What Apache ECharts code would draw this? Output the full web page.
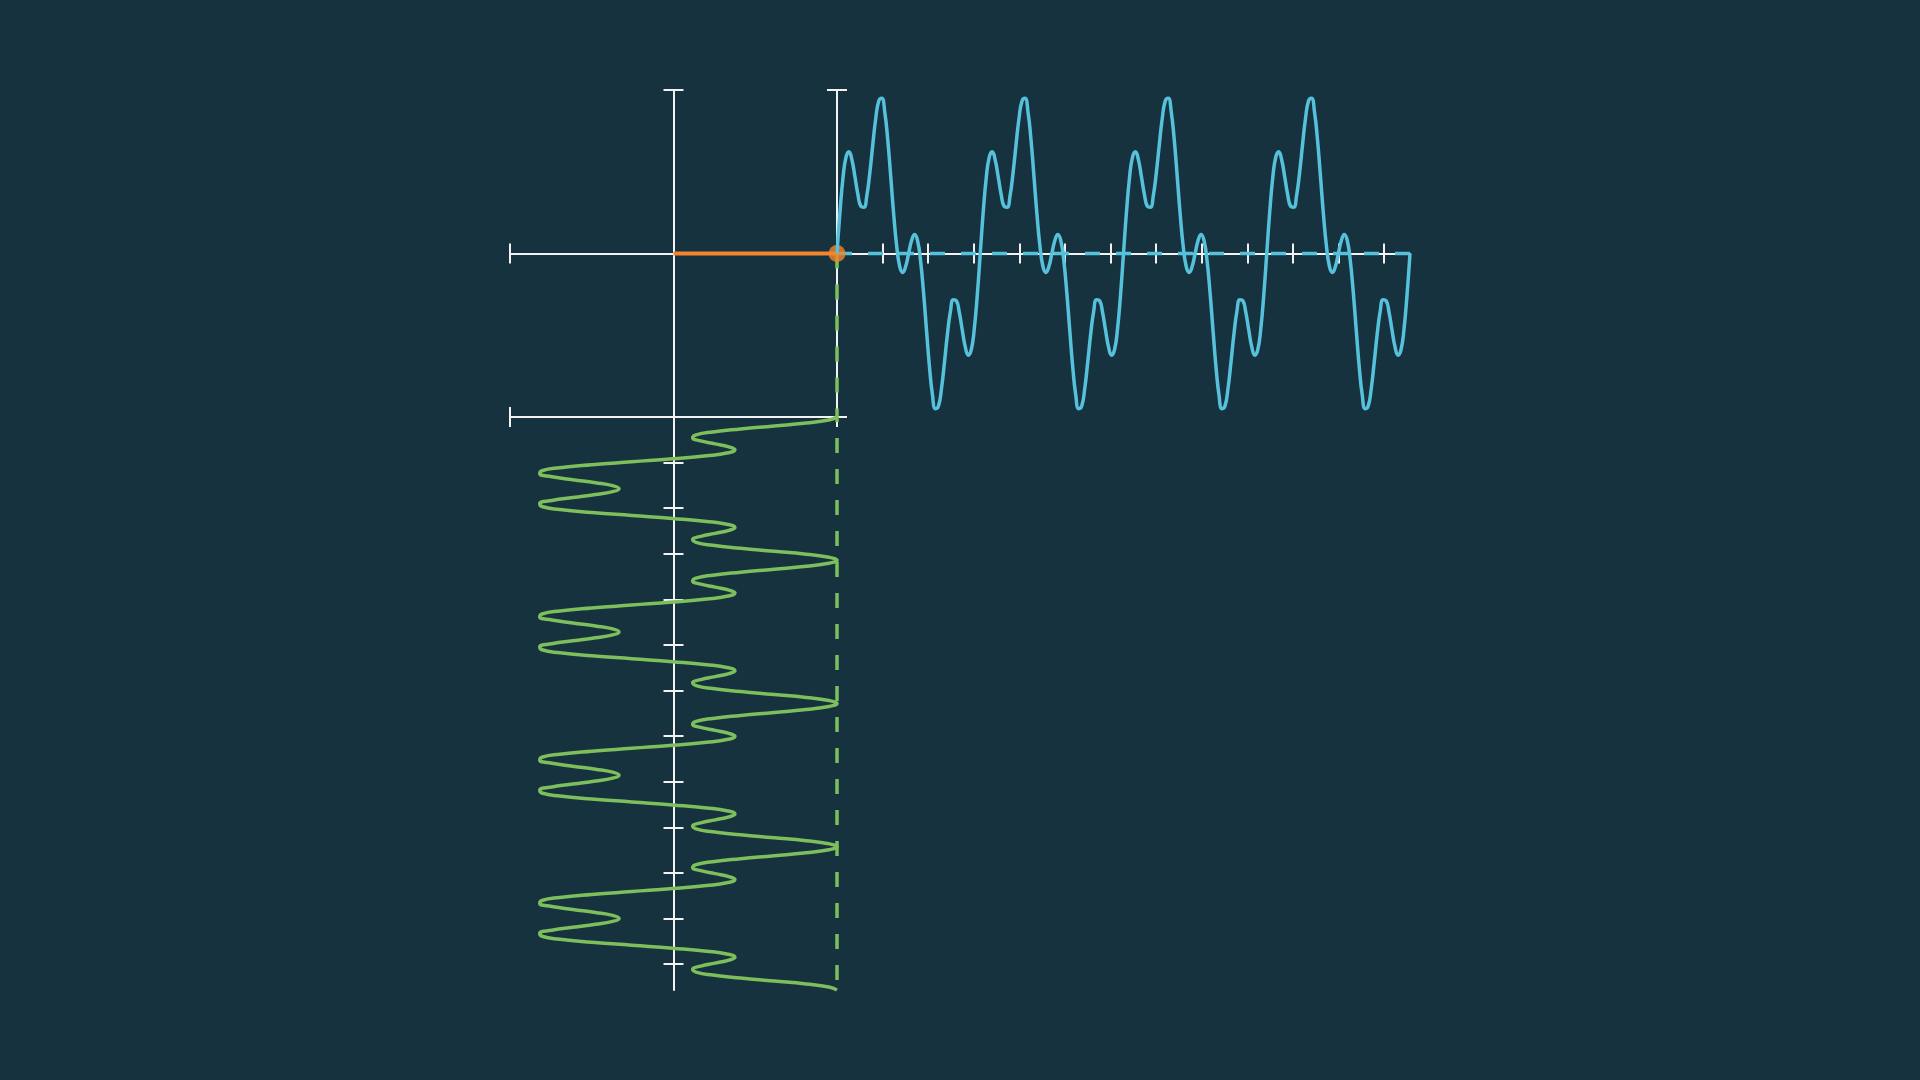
<!DOCTYPE html>
<html>
<head>
<meta charset="UTF-8">
<title></title>
<style>
  html, body { margin: 0; height: 100%; background: #17323f; }
  #main { width: 1920px; height: 1080px; }
</style>
</head>
<body>
<div id="main"></div>
<script src="https://cdn.jsdelivr.net/npm/echarts@6/dist/echarts.min.js"></script>
<script>
// sample spacing along t (pi/48), 4 periods of pi each
var tStep = Math.PI / 48;
var tMax = 4 * Math.PI;

// blue wave: y value at each t sample (right panel)
var blueWave = [
  0, .254, .461, .588, .622, .573, .471, .362, .289, .283, .355, .494, .667, .828, .933, .949, .866, .696, .471, .239, .045, -.078, -.116, -.080, 0, .080, .116, .078, -.045, -.239, -.471, -.696, -.866, -.949, -.933, -.828, -.667, -.494, -.355, -.283, -.289, -.362, -.471, -.573, -.622, -.588, -.461, -.254,
  0, .254, .461, .588, .622, .573, .471, .362, .289, .283, .355, .494, .667, .828, .933, .949, .866, .696, .471, .239, .045, -.078, -.116, -.080, 0, .080, .116, .078, -.045, -.239, -.471, -.696, -.866, -.949, -.933, -.828, -.667, -.494, -.355, -.283, -.289, -.362, -.471, -.573, -.622, -.588, -.461, -.254,
  0, .254, .461, .588, .622, .573, .471, .362, .289, .283, .355, .494, .667, .828, .933, .949, .866, .696, .471, .239, .045, -.078, -.116, -.080, 0, .080, .116, .078, -.045, -.239, -.471, -.696, -.866, -.949, -.933, -.828, -.667, -.494, -.355, -.283, -.289, -.362, -.471, -.573, -.622, -.588, -.461, -.254,
  0, .254, .461, .588, .622, .573, .471, .362, .289, .283, .355, .494, .667, .828, .933, .949, .866, .696, .471, .239, .045, -.078, -.116, -.080, 0, .080, .116, .078, -.045, -.239, -.471, -.696, -.866, -.949, -.933, -.828, -.667, -.494, -.355, -.283, -.289, -.362, -.471, -.573, -.622, -.588, -.461, -.254,
  0
];

// green wave: x value at each t sample (bottom panel, t runs downward)
var greenWave = [
  1, .950, .811, .616, .411, .240, .138, .117, .167, .255, .339, .376, .333, .202, -.006, -.255, -.500, -.695, -.805, -.818, -.744, -.616, -.477, -.372, -.333, -.372, -.477, -.616, -.744, -.818, -.805, -.695, -.500, -.255, -.006, .202, .333, .376, .339, .255, .167, .117, .138, .240, .411, .616, .811, .950,
  1, .950, .811, .616, .411, .240, .138, .117, .167, .255, .339, .376, .333, .202, -.006, -.255, -.500, -.695, -.805, -.818, -.744, -.616, -.477, -.372, -.333, -.372, -.477, -.616, -.744, -.818, -.805, -.695, -.500, -.255, -.006, .202, .333, .376, .339, .255, .167, .117, .138, .240, .411, .616, .811, .950,
  1, .950, .811, .616, .411, .240, .138, .117, .167, .255, .339, .376, .333, .202, -.006, -.255, -.500, -.695, -.805, -.818, -.744, -.616, -.477, -.372, -.333, -.372, -.477, -.616, -.744, -.818, -.805, -.695, -.500, -.255, -.006, .202, .333, .376, .339, .255, .167, .117, .138, .240, .411, .616, .811, .950,
  1, .950, .811, .616, .411, .240, .138, .117, .167, .255, .339, .376, .333, .202, -.006, -.255, -.500, -.695, -.805, -.818, -.744, -.616, -.477, -.372, -.333, -.372, -.477, -.616, -.744, -.818, -.805, -.695, -.500, -.255, -.006, .202, .333, .376, .339, .255, .167, .117, .138, .240, .411, .616, .811, .950,
  1
];

// current tip of the arm in the unit panel
var armStart = [0, 0];
var armTip = [1, 0];

// tick positions
var unitTicks = [-1, 1];
var tTicks = [0, 1, 2, 3, 4, 5, 6, 7, 8, 9, 10, 11, 12];

var axisColor = '#f2f2f2';
var blue = '#56c1db';
var green = '#7dbf5c';
var orange = '#f5842b';

function valAxis(grid, min, max, ticks, inside, pos, extra) {
  var ax = {
    type: 'value',
    gridIndex: grid,
    min: min,
    max: max,
    position: pos,
    axisLine: { show: !inside, onZero: true, lineStyle: { color: axisColor, width: 2 } },
    axisTick: { show: true, inside: inside, length: 10, customValues: ticks, lineStyle: { color: axisColor, width: 2 } },
    axisLabel: { show: false },
    splitLine: { show: false }
  };
  for (var k in extra) ax[k] = extra[k];
  return ax;
}

var chart = echarts.init(document.getElementById('main'));

var blueData = blueWave.map(function (v, i) { return [i * tStep, v]; });
var greenData = greenWave.map(function (v, i) { return [v, i * tStep]; });

chart.setOption({
  backgroundColor: '#17323f',
  animation: false,
  grid: [
    { left: 510, top: 90, width: 327, height: 327 },
    { left: 837, top: 90, width: 573, height: 327 },
    { left: 510, top: 417, width: 327, height: 573 }
  ],
  xAxis: [
    valAxis(0, -1, 1, unitTicks, false, 'bottom'),
    valAxis(0, -1, 1, unitTicks, true, 'bottom'),
    valAxis(1, 0, tMax, tTicks, false, 'bottom'),
    valAxis(1, 0, tMax, tTicks, true, 'bottom'),
    valAxis(2, -1, 1, unitTicks, false, 'top'),
    valAxis(2, -1, 1, unitTicks, true, 'top')
  ],
  yAxis: [
    valAxis(0, -1, 1, unitTicks, false, 'left'),
    valAxis(0, -1, 1, unitTicks, true, 'left'),
    valAxis(1, -1, 1, unitTicks, false, 'left'),
    valAxis(1, -1, 1, unitTicks, true, 'left'),
    valAxis(2, 0, tMax, tTicks, false, 'left', { inverse: true }),
    valAxis(2, 0, tMax, tTicks, true, 'left', { inverse: true })
  ],
  series: [
    {
      type: 'line',
      xAxisIndex: 0, yAxisIndex: 0,
      data: [armStart, armTip],
      symbol: 'none',
      lineStyle: { color: orange, width: 4 },
      z: 3
    },
    {
      type: 'line',
      xAxisIndex: 0, yAxisIndex: 0,
      data: [armTip, [armTip[0], -1]],
      symbol: 'none',
      lineStyle: { color: green, width: 3.5, type: [15, 16] },
      z: 3
    },
    {
      type: 'line',
      xAxisIndex: 4, yAxisIndex: 4,
      data: [[armTip[0], 0], [armTip[0], tMax]],
      symbol: 'none',
      lineStyle: { color: green, width: 3.5, type: [15, 16], dashOffset: 10 },
      z: 3
    },
    {
      type: 'line',
      xAxisIndex: 2, yAxisIndex: 2,
      data: [[0, armTip[1]], [tMax, armTip[1]]],
      symbol: 'none',
      lineStyle: { color: blue, width: 3.5, type: [15, 16] },
      z: 3
    },
    {
      type: 'scatter',
      xAxisIndex: 0, yAxisIndex: 0,
      data: [armTip],
      symbolSize: 17,
      itemStyle: { color: orange },
      z: 4
    },
    {
      type: 'line',
      xAxisIndex: 4, yAxisIndex: 4,
      data: greenData,
      smooth: true,
      symbol: 'none',
      lineStyle: { color: green, width: 3.5 },
      z: 5
    },
    {
      type: 'line',
      xAxisIndex: 2, yAxisIndex: 2,
      data: blueData,
      smooth: true,
      symbol: 'none',
      lineStyle: { color: blue, width: 3.5 },
      z: 5
    }
  ]
});
</script>
</body>
</html>
